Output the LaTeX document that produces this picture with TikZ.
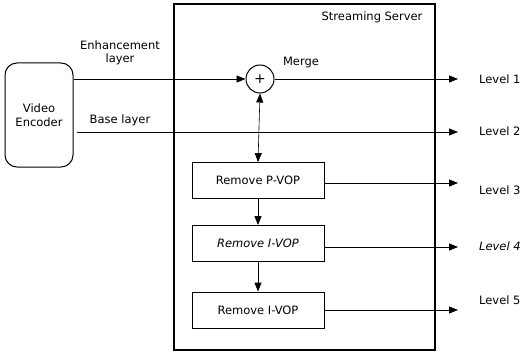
\documentclass[tikz,border=0pt]{standalone}
\usepackage{fontspec}
\setmainfont{DejaVu Sans}
\usetikzlibrary{positioning,arrows.meta}
\tikzset{
    base/.style={font=\fontsize{11.5}{13.5}\selectfont, align=center},
    encoder/.style={base, rectangle, rounded corners=12pt, draw, line width=1pt,
                    minimum width=68pt, minimum height=104pt},
    server/.style={rectangle, draw, line width=1.2pt, minimum width=261pt, minimum height=346pt},
    adder/.style={base, circle, draw, line width=1pt, minimum size=28pt, inner sep=0pt,
                  font=\fontsize{14}{14}\selectfont},
    filter/.style={base, rectangle, draw, line width=0.8pt, minimum width=132pt, minimum height=36pt},
    flow/.style={-{Triangle[length=9pt,width=7pt]}, line width=0.8pt},
    dflow/.style={{Triangle[length=9pt,width=7pt]}-{Triangle[length=9pt,width=7pt]}, line width=0.6pt},
    label/.style={base, inner sep=1pt},
    level/.style={base, anchor=west, inner sep=0pt}
}
\begin{document}
\begin{tikzpicture}[x=1pt, y=-1pt]
  \useasboundingbox (0,0) rectangle (522,353);

  % source and server
  \node[encoder] (enc) at (39,115) {Video\\Encoder};
  \node[server] (srv) at (304.5,177) {};
  \node[label, anchor=north east] (srvname) at ([xshift=-12pt,yshift=-7pt]srv.north east) {Streaming Server};

  % merge point
  \node[adder] (merge) at (260,79) {+};
  \node[label] (mergename) at (301,63) {Merge};

  % removal chain
  \node[filter] (pvop) at (258,180.5) {Remove P-VOP};
  \node[filter] (ivopa) at (258,243.5) {\itshape Remove I-VOP};
  \node[filter] (ivopb) at (258,310) {Remove I-VOP};

  % layer labels
  \node[label] (enhname) at (120,53) {Enhancement\\layer};
  \node[label] (basename) at (120,120) {Base layer};

  % outputs
  \node[level] (lv1) at (479,79) {Level 1};
  \node[level] (lv2) at (479,131) {Level 2};
  \node[level] (lv3) at (479,190) {Level 3};
  \node[level] (lv4) at (479,246) {\itshape Level 4};
  \node[level] (lv5) at (479,300) {Level 5};
  \coordinate (out1) at (458,79);
  \coordinate (out2) at (458,132);
  \coordinate (out3) at (458,183);
  \coordinate (out4) at (458,247);
  \coordinate (out5) at (458,310);
  \coordinate (basein) at (77,132);

  \draw[flow] (enc.east |- merge.west) -- (merge.west);
  \draw[flow] (basein) -- (out2);
  \draw[flow] (merge.east) -- (out1);
  \draw[dflow] (merge.south) -- (pvop.north);
  \draw[flow] (pvop.south) -- (ivopa.north);
  \draw[flow] (ivopa.south) -- (ivopb.north);
  \draw[flow] (pvop.east |- out3) -- (out3);
  \draw[flow] (ivopa.east |- out4) -- (out4);
  \draw[flow] (ivopb.east |- out5) -- (out5);
\end{tikzpicture}
\end{document}
